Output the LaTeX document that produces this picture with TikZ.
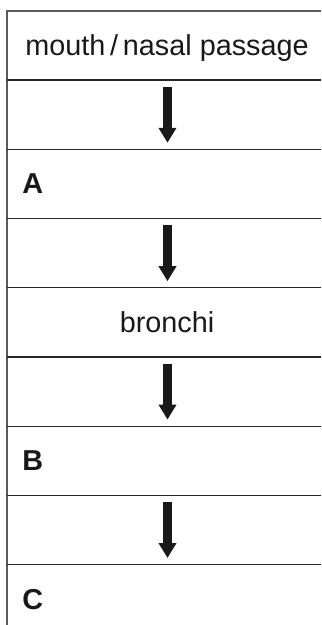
\documentclass[tikz,border=0pt]{standalone}
\usepackage{fontspec}
\setmainfont{Liberation Sans}
\usepackage{tikz}
\usetikzlibrary{arrows.meta}

\begin{document}
\begin{tikzpicture}[x=0.5pt, y=-0.5pt,
    rowline/.style={line width=0.7pt, black!85},
    edgeline/.style={line width=0.8pt, black!65},
    flow/.style={line width=4.5pt, black!90, -{Triangle[width=8.5pt, length=7.5pt]}},
    cell/.style={anchor=base, inner sep=0pt, text=black!90, font=\fontsize{14.4}{17}\selectfont},
    letter/.style={anchor=base west, inner sep=0pt, text=black!90, font=\fontsize{14.4}{17}\selectfont\bfseries}]

    % Fix the page to the size of the reference
    \useasboundingbox (0,0) rectangle (321,625);

    % Outer edges (top and left, the right and bottom stay open)
    \draw[edgeline] (321,11) -- (7,11) -- (7,625);

    % Row separators, one row every 69.2 units
    \draw[rowline] (7,80.2) -- (321,80.2);
    \draw[rowline] (7,149.4) -- (321,149.4);
    \draw[rowline] (7,218.6) -- (321,218.6);
    \draw[rowline] (7,287.8) -- (321,287.8);
    \draw[rowline] (7,357) -- (321,357);
    \draw[rowline] (7,426.2) -- (321,426.2);
    \draw[rowline] (7,495.4) -- (321,495.4);
    \draw[rowline] (7,564.6) -- (321,564.6);

    % Texts of the rows
    \node[cell] (mouth) at (167,55.6) {mouth\,/\,nasal passage};
    \node[letter] (A) at (22,194) {A};
    \node[cell] (bronchi) at (167,332.4) {bronchi};
    \node[letter] (B) at (22,470.8) {B};
    \node[letter] (C) at (22,609.2) {C};

    % Start and tip of each arrow
    \coordinate (s1) at (167.5,86.8);  \coordinate (t1) at (167.5,142.8);
    \coordinate (s2) at (167.5,225.2); \coordinate (t2) at (167.5,281.2);
    \coordinate (s3) at (167.5,363.6); \coordinate (t3) at (167.5,419.6);
    \coordinate (s4) at (167.5,502);   \coordinate (t4) at (167.5,558);

    % Arrows between the rows
    \draw[flow] (s1) -- (t1);
    \draw[flow] (s2) -- (t2);
    \draw[flow] (s3) -- (t3);
    \draw[flow] (s4) -- (t4);

\end{tikzpicture}
\end{document}
